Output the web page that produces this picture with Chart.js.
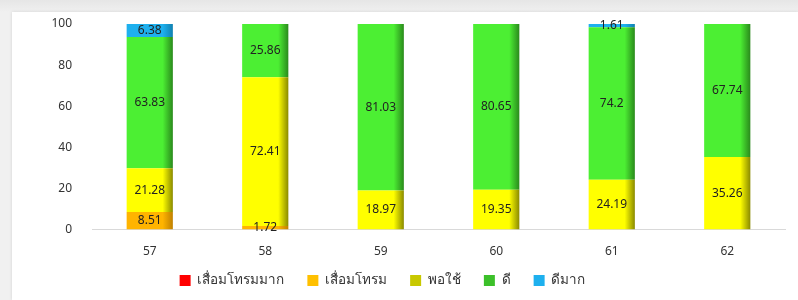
<!DOCTYPE html>
<html>
<head>
<meta charset="utf-8">
<script src="https://cdn.jsdelivr.net/npm/chart.js@4"></script>
<style>
  html,body{margin:0;padding:0;}
  body{width:798px;height:300px;background:linear-gradient(#e6e6e6,#f0f0f0 12px);overflow:hidden;position:relative;}
  #wrap{position:absolute;left:12px;top:12px;width:786px;height:288px;background:#fff;box-shadow:0 0 3px rgba(0,0,0,0.12);}
  canvas{display:block;}
</style>
</head>
<body>
<div id="wrap"><canvas id="c" width="786" height="288"></canvas></div>
<script>
const categories = ['57','58','59','60','61','62'];
const seriesNames = ['เสื่อมโทรมมาก','เสื่อมโทรม','พอใช้','ดี','ดีมาก'];
const veryPoor = [0, 0, 0, 0, 0, 0];
const poor     = [8.51, 1.72, 0, 0, 0, 0];
const fair     = [21.28, 72.41, 18.97, 19.35, 24.19, 35.26];
const good     = [63.83, 25.86, 81.03, 80.65, 74.2, 67.74];
const veryGood = [6.38, 0, 0, 0, 1.61, 0];
const yTicks   = [0, 20, 40, 60, 80, 100];

const mainColors = ['#FF0000','#FFB400','#FFFF00','#4CEF33','#1EB0EE'];
const edgeColors = ['#A00000','#C08000','#8A8A00','#2A8A1C','#1080B0'];
const legendColors = ['#FF0000','#FFC000','#C8C800','#3CC02A','#1EB0EE'];

const FONT = 'Tahoma, "Noto Sans", "DejaVu Sans", sans-serif';
const BAR_PCT = 0.4;

function barGradient(si){
  return function(ctx){
    const chart = ctx.chart;
    const xs = chart.scales && chart.scales.x;
    if(!xs || !chart.chartArea) return mainColors[si];
    const i = ctx.dataIndex === undefined ? 0 : ctx.dataIndex;
    const cx = xs.getPixelForValue(i);
    const w = (xs.width / categories.length) * BAR_PCT;
    const g = chart.ctx.createLinearGradient(cx - w/2, 0, cx + w/2, 0);
    g.addColorStop(0, mainColors[si]);
    g.addColorStop(0.78, mainColors[si]);
    g.addColorStop(1, edgeColors[si]);
    return g;
  };
}

const seriesData = [veryPoor, poor, fair, good, veryGood];

const valueLabels = {
  id: 'valueLabels',
  afterDatasetsDraw(chart){
    const {ctx, chartArea} = chart;
    ctx.save();
    ctx.font = '12px ' + FONT;
    ctx.fillStyle = '#222';
    ctx.textAlign = 'center';
    ctx.textBaseline = 'middle';
    chart.data.datasets.forEach((ds, di) => {
      const meta = chart.getDatasetMeta(di);
      meta.data.forEach((bar, i) => {
        const v = ds.data[i];
        if (!v) return;
        const top = Math.max(Math.min(bar.y, bar.base), chartArea.top);
        const bottom = Math.min(Math.max(bar.y, bar.base), chartArea.bottom);
        ctx.fillText(String(v), bar.x, (top + bottom) / 2);
      });
    });
    ctx.restore();
  }
};

const shiftLegend = {
  id: 'shiftLegend',
  afterLayout(chart){
    const lg = chart.legend;
    if (lg) {
      lg.left -= 16; lg.right -= 16;
      lg.top -= 8.75; lg.bottom -= 8.75;
    }
  }
};

new Chart(document.getElementById('c'), {
  type: 'bar',
  data: {
    labels: categories,
    datasets: seriesNames.map((name, si) => ({
      label: name,
      data: seriesData[si],
      backgroundColor: barGradient(si),
      borderWidth: 0,
      categoryPercentage: 1,
      barPercentage: BAR_PCT
    }))
  },
  options: {
    responsive: false,
    animation: false,
    layout: { padding: { top: 12, right: 13, bottom: -6, left: 0 } },
    scales: {
      x: {
        stacked: true,
        grid: { display: false, drawTicks: false },
        border: { display: true, color: '#d9d9d9', width: 1 },
        ticks: { color: '#333', font: { family: FONT, size: 12 }, padding: 15 },
        afterFit(s){ s.height = 30; }
      },
      y: {
        stacked: true,
        min: 0, max: 100,
        afterBuildTicks(s){ s.ticks = yTicks.map(v => ({ value: v })); },
        grid: { display: false, drawTicks: false },
        border: { display: false },
        ticks: { color: '#333', font: { family: FONT, size: 12 }, padding: 20 },
        afterFit(s){ s.width = 80; s.paddingTop = 0; s.paddingBottom = 0; }
      }
    },
    plugins: {
      tooltip: { enabled: false },
      legend: {
        position: 'bottom',
        labels: {
          boxWidth: 11, boxHeight: 11, padding: 23,
          color: '#333',
          font: { family: FONT, size: 13.5 },
          generateLabels(chart){
            return chart.data.datasets.map((ds, i) => ({
              text: ds.label, fillStyle: legendColors[i], strokeStyle: legendColors[i],
              lineWidth: 0, datasetIndex: i, hidden: false, fontColor: '#333'
            }));
          }
        }
      }
    }
  },
  plugins: [valueLabels, shiftLegend]
});
</script>
</body>
</html>
